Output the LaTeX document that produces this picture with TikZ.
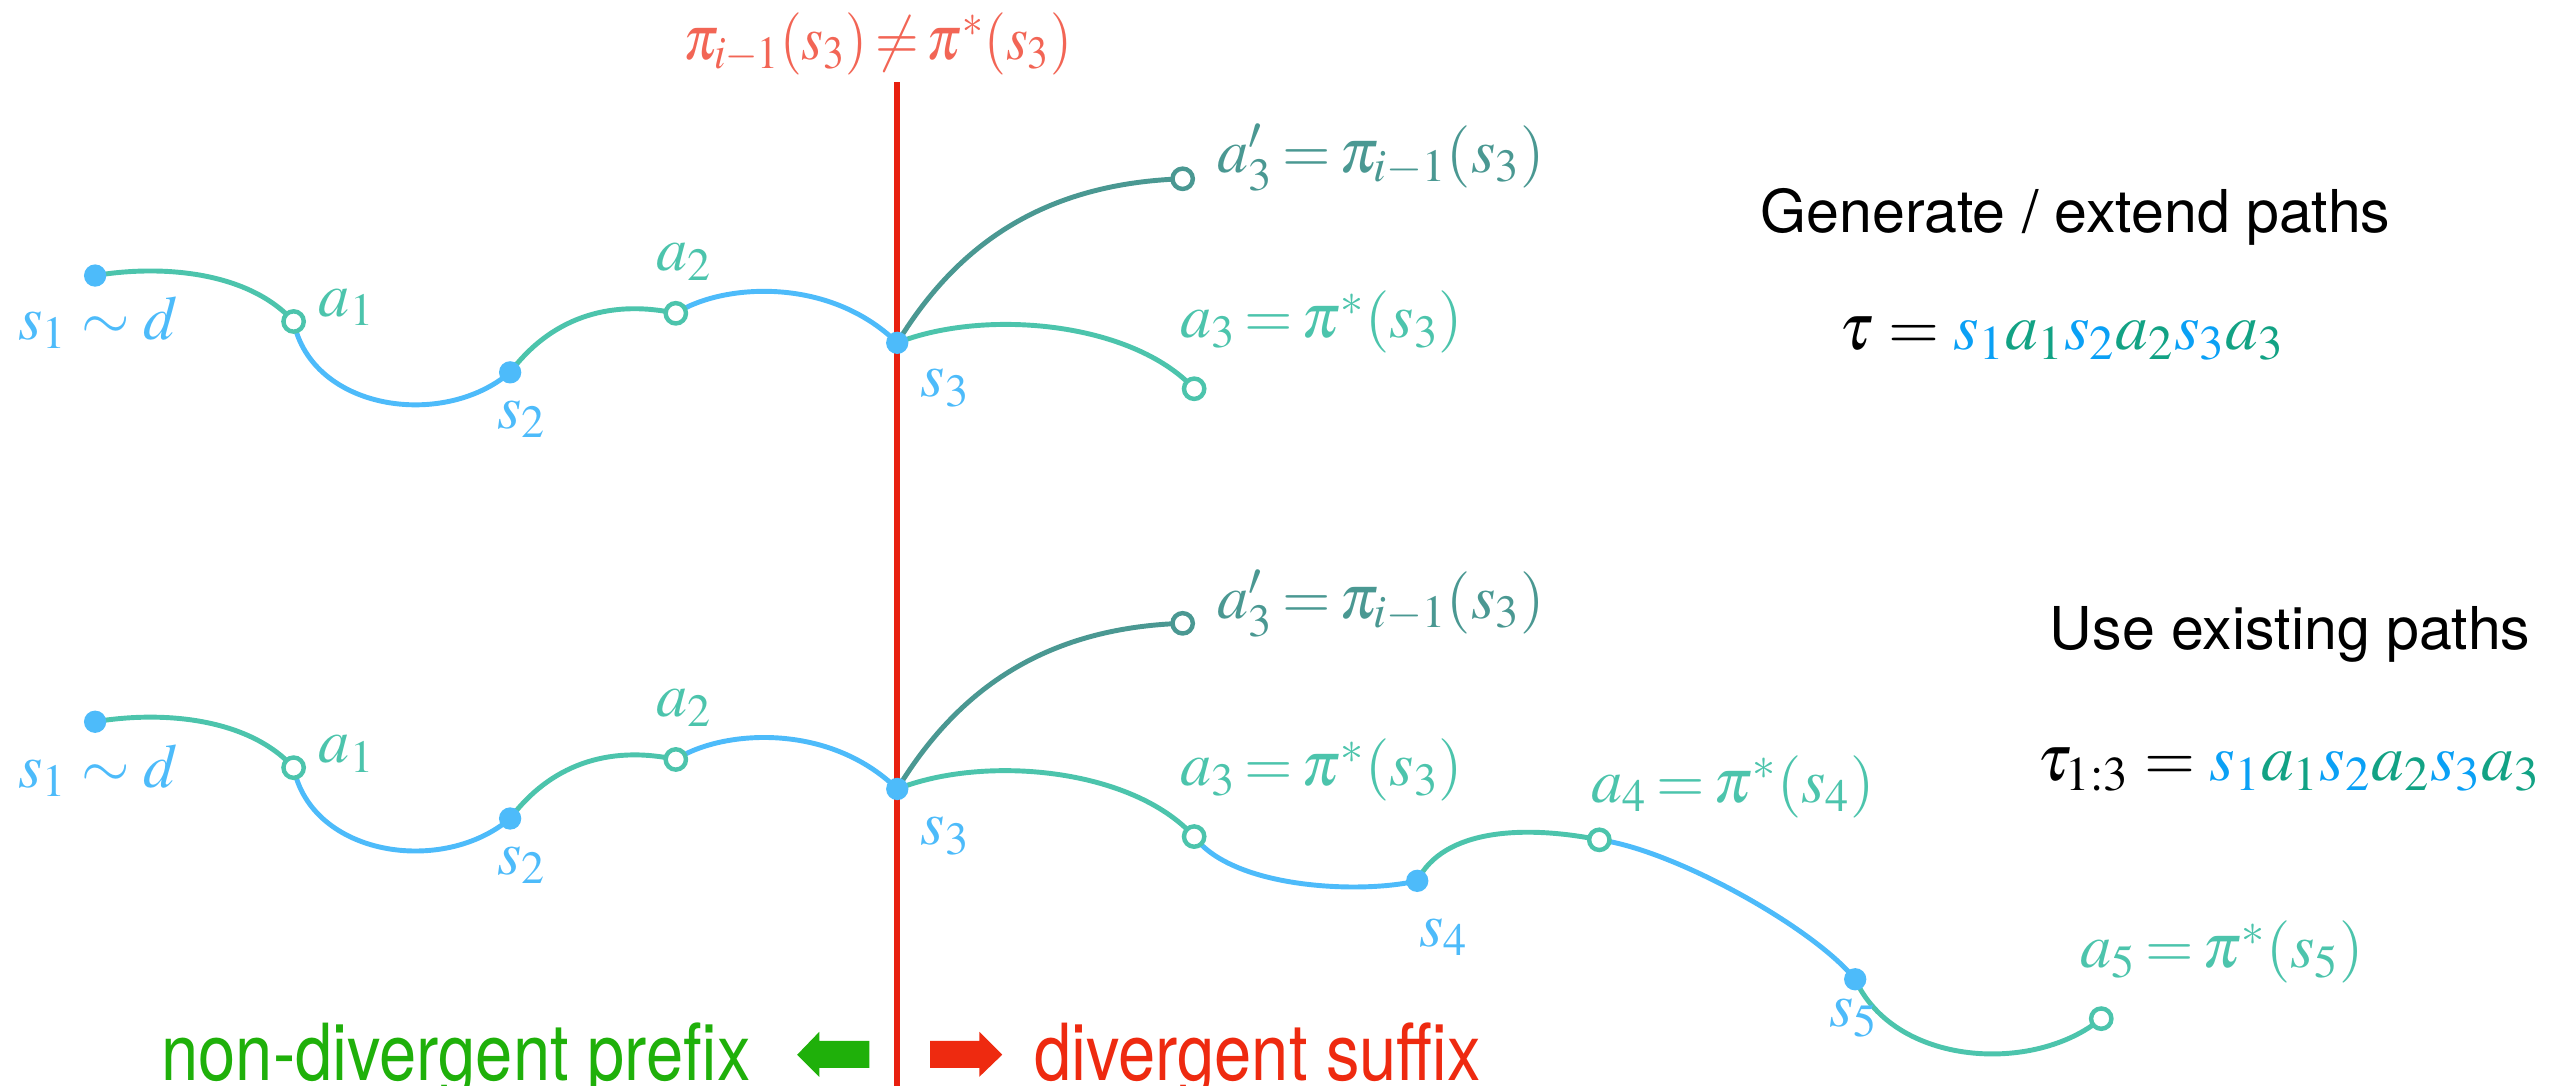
\documentclass[tikz,border=0pt]{standalone}
\usepackage{mathptmx}
\usepackage[no-math]{fontspec}
\newfontfamily\helv{TeX Gyre Heros}
\definecolor{sblue}{HTML}{4DBBFA}
\definecolor{agreen}{HTML}{4CC4AC}
\definecolor{dteal}{HTML}{4A9892}
\definecolor{fblue}{HTML}{0AA0F5}
\definecolor{fgreen}{HTML}{12A284}
\definecolor{vred}{HTML}{EE2A10}
\definecolor{lred}{HTML}{E8200F}
\definecolor{tred}{HTML}{F26555}
\definecolor{pgreen}{HTML}{1FB00A}
\newcommand\condx[2]{\scalebox{#1}[1]{#2}}
\newcommand\tightrel{\thickmuskip=2.5mu\relax}
\begin{document}
\begin{tikzpicture}[x=0.5pt,y=-0.5pt,
  every node/.style={inner sep=0pt},
  lbl/.style={font=\fontsize{19}{23}\selectfont},
  sdot/.style={circle, fill=sblue, minimum size=6.8pt},
  aring/.style={circle, draw=agreen, fill=white, line width=1.35pt, minimum size=6.2pt},
  tring/.style={aring, draw=dteal},
  seg/.style={line width=1.5pt},
  bseg/.style={seg, draw=sblue},
  gseg/.style={seg, draw=agreen},
  tseg/.style={seg, draw=dteal},
  slab/.style={lbl, anchor=base west, text=sblue},
  alab/.style={lbl, anchor=base west, text=agreen},
  tlab/.style={lbl, anchor=base west, text=dteal},
  sans/.style={font=\helv\fontsize{18}{22}\selectfont},
  legend/.style={anchor=base west, font=\helv\fontsize{24}{28}\selectfont},
  formula/.style={font=\fontsize{20}{24}\selectfont}
]
\useasboundingbox (0,0) rectangle (1568,662);

% red divider
\coordinate (ltop) at (547,50);
\coordinate (lbot) at (547,662);
\draw[lred, line width=1.7pt] (ltop) -- (lbot);
\node[lbl, anchor=base, text=tred] (title) at (535,36) {\condx{0.9}{\tightrel$\pi_{i-1}(s_3)\neq\pi^*(s_3)$}};

% ---------- top row ----------
\coordinate (Ts1) at (58,168);
\coordinate (Ta1) at (179,196);
\coordinate (Ts2) at (311,227);
\coordinate (Ta2) at (412,191);
\coordinate (Ts3) at (547,209);
\coordinate (Ta3p) at (721,109);
\coordinate (Ta3) at (728,237);

\draw[gseg] (Ts1) .. controls (100,161) and (152,166) .. (Ta1);
\draw[bseg] (Ta1) .. controls (190,250) and (270,262) .. (Ts2);
\draw[gseg] (Ts2) .. controls (335,195) and (370,182) .. (Ta2);
\draw[bseg] (Ta2) .. controls (440,173) and (505,168) .. (Ts3);
\draw[tseg] (Ts3) .. controls (580,155) and (630,112) .. (Ta3p);
\draw[gseg] (Ts3) .. controls (600,188) and (690,196) .. (Ta3);

\node[sdot] (Ts1d) at (Ts1) {};
\node[aring] (Ta1d) at (Ta1) {};
\node[sdot] (Ts2d) at (Ts2) {};
\node[aring] (Ta2d) at (Ta2) {};
\node[sdot] (Ts3d) at (Ts3) {};
\node[tring] (Ta3pd) at (Ta3p) {};
\node[aring] (Ta3d) at (Ta3) {};

\node[slab] (Tls1) at (11,207) {$s_1\sim d$};
\node[alab] (Tla1) at (194,193) {$a_1$};
\node[slab] (Tls2) at (303,261) {$s_2$};
\node[alab] (Tla2) at (400,165) {$a_2$};
\node[slab] (Tls3) at (561,242) {$s_3$};
\node[tlab] (Tla3p) at (742,105) {\tightrel$a'_3=\pi_{i-1}(s_3)$};
\node[alab] (Tla3) at (719,206) {\tightrel$a_3=\pi^*(s_3)$};

% ---------- bottom row ----------
\coordinate (Bs1) at (58,440);
\coordinate (Ba1) at (179,468);
\coordinate (Bs2) at (311,499);
\coordinate (Ba2) at (412,463);
\coordinate (Bs3) at (547,481);
\coordinate (Ba3p) at (721,380);
\coordinate (Ba3) at (728,510);
\coordinate (Bs4) at (864,537);
\coordinate (Ba4) at (975,512);
\coordinate (Bs5) at (1131,597);
\coordinate (Ba5) at (1281,621);

\draw[gseg] (Bs1) .. controls (100,433) and (152,438) .. (Ba1);
\draw[bseg] (Ba1) .. controls (190,522) and (270,534) .. (Bs2);
\draw[gseg] (Bs2) .. controls (335,467) and (370,454) .. (Ba2);
\draw[bseg] (Ba2) .. controls (440,445) and (505,440) .. (Bs3);
\draw[tseg] (Bs3) .. controls (580,427) and (630,383) .. (Ba3p);
\draw[gseg] (Bs3) .. controls (600,460) and (690,468) .. (Ba3);
\draw[bseg] (Ba3) .. controls (752,542) and (830,545) .. (Bs4);
\draw[gseg] (Bs4) .. controls (880,505) and (930,503) .. (Ba4);
\draw[bseg] (Ba4) .. controls (1020,518) and (1105,565) .. (Bs5);
\draw[gseg] (Bs5) .. controls (1155,650) and (1240,655) .. (Ba5);

\node[sdot] (Bs1d) at (Bs1) {};
\node[aring] (Ba1d) at (Ba1) {};
\node[sdot] (Bs2d) at (Bs2) {};
\node[aring] (Ba2d) at (Ba2) {};
\node[sdot] (Bs3d) at (Bs3) {};
\node[tring] (Ba3pd) at (Ba3p) {};
\node[aring] (Ba3d) at (Ba3) {};
\node[sdot] (Bs4d) at (Bs4) {};
\node[aring] (Ba4d) at (Ba4) {};
\node[sdot] (Bs5d) at (Bs5) {};
\node[aring] (Ba5d) at (Ba5) {};

\node[slab] (Bls1) at (11,480) {$s_1\sim d$};
\node[alab] (Bla1) at (194,465) {$a_1$};
\node[slab] (Bls2) at (303,533) {$s_2$};
\node[alab] (Bla2) at (400,437) {$a_2$};
\node[slab] (Bls3) at (561,515) {$s_3$};
\node[tlab] (Bla3p) at (742,377) {\tightrel$a'_3=\pi_{i-1}(s_3)$};
\node[alab] (Bla3) at (719,479) {\tightrel$a_3=\pi^*(s_3)$};
\node[slab] (Bls4) at (865,577) {$s_4$};
\node[alab] (Bla4) at (970,489) {\tightrel$a_4=\pi^*(s_4)$};
\node[slab] (Bls5) at (1115,626) {$s_5$};
\node[alab] (Bla5) at (1268,590) {\tightrel$a_5=\pi^*(s_5)$};

% ---------- right side ----------
\node[sans, anchor=base west] (gen) at (1073,142) {Generate / extend paths};
\node[formula, anchor=base west] (tau) at (1121,213) {$\tau=\textcolor{fblue}{s_1}\textcolor{fgreen}{a_1}\textcolor{fblue}{s_2}\textcolor{fgreen}{a_2}\textcolor{fblue}{s_3}\textcolor{fgreen}{a_3}$};
\node[sans, anchor=base east] (use) at (1543,396) {Use existing paths};
\node[formula, anchor=base east] (tau13) at (1549,476) {$\tau_{1:3}=\textcolor{fblue}{s_1}\textcolor{fgreen}{a_1}\textcolor{fblue}{s_2}\textcolor{fgreen}{a_2}\textcolor{fblue}{s_3}\textcolor{fgreen}{a_3}$};

% ---------- bottom legend ----------
\node[legend, text=pgreen] (pre) at (98,659) {\condx{0.85}{non-divergent prefix}};
\node[legend, text=vred] (suf) at (630,659) {\condx{0.85}{divergent suffix}};
\fill[pgreen] (486,643) -- (499.5,629) -- (499.5,634.5) -- (530,634.5) -- (530,651) -- (499.5,651) -- (499.5,656.5) -- cycle;
\fill[vred] (611,643) -- (597,629) -- (597,634.5) -- (567,634.5) -- (567,651) -- (597,651) -- (597,656.5) -- cycle;
\end{tikzpicture}
\end{document}
